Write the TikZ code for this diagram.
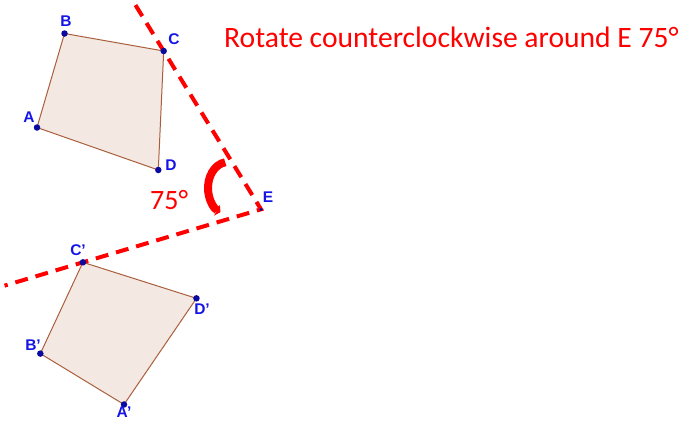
\documentclass[tikz,border=0pt]{standalone}
\usepackage{fontspec}
\setmainfont{Carlito}
\setsansfont{Liberation Sans}
\usetikzlibrary{calc,arrows.meta}
\definecolor{ptblue}{RGB}{10,10,160}
\definecolor{labblue}{RGB}{20,20,230}
\definecolor{edgebrown}{RGB}{170,95,60}
\definecolor{quadfill}{RGB}{244,232,226}

\begin{document}
\begin{tikzpicture}[
  x=1pt, y=-1pt,
  quad/.style={draw=edgebrown, fill=quadfill, line width=1pt},
  dot/.style={circle, fill=ptblue, inner sep=0pt, minimum size=6.5pt},
  lab/.style={text=labblue, font=\sffamily\bfseries\fontsize{15.5}{15.5}\selectfont, inner sep=0pt},
  ray/.style={red, line width=4pt, dash pattern=on 13pt off 8pt},
  turn/.style={red, line width=8pt, -{Triangle[length=4pt,width=12pt]}},
  redtxt/.style={text=red, inner sep=0pt}
]
\useasboundingbox (0,0) rectangle (681,423);
% original quadrilateral and centre
\coordinate (E) at (261,209.3);
\coordinate (A) at (37,127.5);
\coordinate (B) at (64.5,33.5);
\coordinate (C) at (163.7,51);
\coordinate (D) at (158.3,170);
% images under the rotation
\coordinate (A2) at ($(E)!1!75:(A)$);
\coordinate (B2) at ($(E)!1!75:(B)$);
\coordinate (C2) at ($(E)!1!75:(C)$);
\coordinate (D2) at ($(E)!1!75:(D)$);
\coordinate (top) at ($(E)!1.29!(C)$);
\coordinate (left) at ($(E)!1.44!(C2)$);

\filldraw[quad] (A) -- (B) -- (C) -- (D) -- cycle;
\filldraw[quad] (A2) -- (B2) -- (C2) -- (D2) -- cycle;
\draw[ray] (top) -- (E) -- (left);

\coordinate (O) at (228,188);
\draw[turn] ($(O)+(-98:20 and 26)$) arc[start angle=-98, end angle=-248, x radius=20, y radius=26];

\foreach \p in {A,B,C,D,A2,B2,C2,D2}
  \node[dot] (n\p) at (\p) {};
\node[circle, fill=ptblue, inner sep=0pt, minimum size=3.5pt] (nE) at (E) {};

\node[lab] (lA) at (29,117) {A};
\node[lab] (lB) at (66,21) {B};
\node[lab] (lC) at (174,39) {C};
\node[lab] (lD) at (171,165) {D};
\node[lab] (lE) at (268,197) {E};
\node[lab] (lC2) at (78,250) {C'};
\node[lab] (lD2) at (202,309) {D'};
\node[lab] (lB2) at (33,345) {B'};
\node[lab] (lA2) at (124,412) {A'};

\node[redtxt, font=\fontsize{29.6}{30}\selectfont, anchor=base west] (title) at (224,47) {Rotate counterclockwise around E 75°};
\node[redtxt, font=\fontsize{28}{28}\selectfont, anchor=base west] (ang) at (150,209) {75°};
\end{tikzpicture}
\end{document}
